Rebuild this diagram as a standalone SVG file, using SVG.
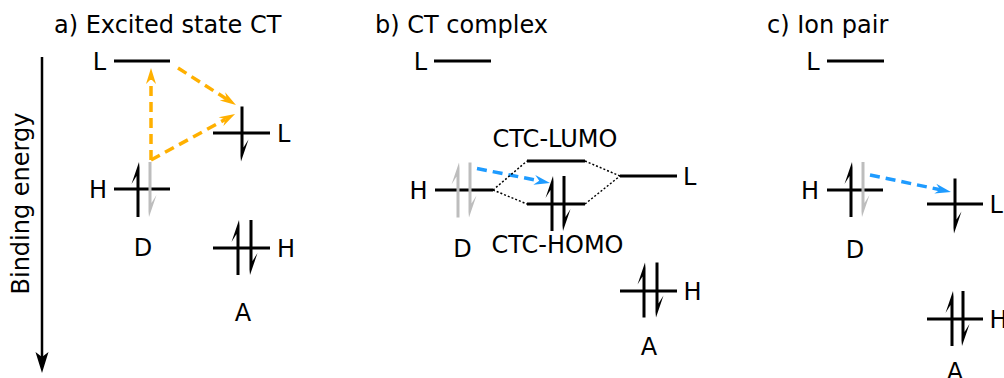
<svg xmlns="http://www.w3.org/2000/svg" xmlns:xlink="http://www.w3.org/1999/xlink" width="1004" height="378" viewBox="0 0 1004 378">
  <style>
    .lvl { stroke: #000; stroke-width: 3; fill: none; }
    .txt { font-family: "DejaVu Sans", Verdana, sans-serif; font-size: 24px; fill: #000; }
    .end { text-anchor: end; }
    .mid { text-anchor: middle; }
    .grey { fill: #bdbdbd; }
    .ct { fill: none; stroke: #ffb000; stroke-width: 3.5; stroke-dasharray: 10 6; marker-end: url(#headOrange); }
    .et { fill: none; stroke: #1e9bff; stroke-width: 3.5; stroke-dasharray: 10 6; marker-end: url(#headBlue); }
    .mix { fill: none; stroke: #000; stroke-width: 1.5; stroke-dasharray: 2 2; }
    .axis { stroke: #000; stroke-width: 2.5; fill: none; marker-end: url(#headAxis); }
  </style>
  <defs>
    <!-- spin-up / spin-down half arrows, centred on the level line -->
    <polygon id="up" points="1.5,27.5 -1.5,27.5 -1.5,-13.5 -6.5,-5.5 1,-27.5 1.5,-22"/>
    <polygon id="dn" points="-1.5,-27.5 1.5,-27.5 1.5,13.5 6.5,5.5 -1,27.5 -1.5,22"/>
    <marker id="headOrange" markerUnits="userSpaceOnUse" viewBox="-6 -6 18 12" markerWidth="18" markerHeight="12" refX="0" refY="0" orient="auto" overflow="visible">
      <path d="M11,0 L-5,-5 L0,0 L-5,5 Z" fill="#ffb000"/>
    </marker>
    <marker id="headBlue" markerUnits="userSpaceOnUse" viewBox="-6 -6 18 12" markerWidth="18" markerHeight="12" refX="0" refY="0" orient="auto" overflow="visible">
      <path d="M11,0 L-5,-5 L0,0 L-5,5 Z" fill="#1e9bff"/>
    </marker>
    <marker id="headAxis" markerUnits="userSpaceOnUse" viewBox="-6 -8 24 16" markerWidth="24" markerHeight="16" refX="0" refY="0" orient="auto" overflow="visible">
      <path d="M16,0 L-5,-6.5 L0,0 L-5,6.5 Z" fill="#000"/>
    </marker>
  </defs>

  <!-- energy axis -->
  <g id="axis">
    <line class="axis" x1="42" y1="57" x2="42" y2="357"/>
    <text class="txt mid" transform="translate(28.5,203.5) rotate(-90)">Binding energy</text>
  </g>

  <!-- panel titles -->
  <g id="titles">
    <text class="txt" x="54" y="33">a) Excited state CT</text>
    <text class="txt" x="375" y="33">b) CT complex</text>
    <text class="txt" x="767" y="33">c) Ion pair</text>
  </g>

  <!-- a) excited state CT -->
  <g id="a-donor-L">
    <line class="lvl" x1="114" y1="61" x2="170" y2="61"/>
    <text class="txt end" x="106" y="69.5">L</text>
  </g>
  <g id="a-donor-H">
    <line class="lvl" x1="114" y1="189" x2="170" y2="189"/>
    <text class="txt end" x="107" y="197.5">H</text>
    <use xlink:href="#up" transform="translate(138,189.5)"/>
    <use xlink:href="#dn" class="grey" transform="translate(150,189.5)"/>
    <text class="txt mid" x="143" y="255.5">D</text>
  </g>
  <g id="a-acceptor-L">
    <line class="lvl" x1="213" y1="133" x2="270" y2="133"/>
    <text class="txt" x="277" y="141.5">L</text>
    <use xlink:href="#dn" transform="translate(242,134)"/>
  </g>
  <g id="a-acceptor-H">
    <line class="lvl" x1="213" y1="248" x2="270" y2="248"/>
    <text class="txt" x="277" y="256.5">H</text>
    <use xlink:href="#up" transform="translate(238,247.5)"/>
    <use xlink:href="#dn" transform="translate(251,247.5)"/>
    <text class="txt mid" x="243" y="321">A</text>
  </g>

  <!-- b) CT complex -->
  <g id="b-donor-L">
    <line class="lvl" x1="434" y1="61" x2="491" y2="61"/>
    <text class="txt end" x="427" y="69.5">L</text>
  </g>
  <g id="b-donor-H">
    <line class="lvl" x1="435" y1="190" x2="493" y2="190"/>
    <text class="txt end" x="427.5" y="198.5">H</text>
    <use xlink:href="#up" class="grey" transform="translate(458,190)"/>
    <use xlink:href="#dn" class="grey" transform="translate(470,190)"/>
    <text class="txt mid" x="462.5" y="257">D</text>
  </g>
  <g id="b-ctc-lumo">
    <line class="lvl" x1="527" y1="161" x2="585" y2="161"/>
    <text class="txt mid" x="555" y="147">CTC-LUMO</text>
  </g>
  <g id="b-ctc-homo">
    <line class="lvl" x1="527" y1="204" x2="585" y2="204"/>
    <use xlink:href="#up" transform="translate(552,203.5)"/>
    <use xlink:href="#dn" transform="translate(564,203.5)"/>
    <text class="txt mid" x="557.5" y="253">CTC-HOMO</text>
  </g>
  <g id="b-acceptor-L">
    <line class="lvl" x1="620" y1="176" x2="677" y2="176"/>
    <text class="txt" x="683" y="184.5">L</text>
  </g>
  <g id="b-acceptor-H">
    <line class="lvl" x1="620" y1="291" x2="677" y2="291"/>
    <text class="txt" x="683.5" y="299.5">H</text>
    <use xlink:href="#up" transform="translate(644,290)"/>
    <use xlink:href="#dn" transform="translate(657,290)"/>
    <text class="txt mid" x="649" y="355">A</text>
  </g>

  <!-- c) ion pair -->
  <g id="c-donor-L">
    <line class="lvl" x1="827" y1="61" x2="884" y2="61"/>
    <text class="txt end" x="819.5" y="69.5">L</text>
  </g>
  <g id="c-donor-H">
    <line class="lvl" x1="827" y1="190" x2="883" y2="190"/>
    <text class="txt end" x="819" y="198.5">H</text>
    <use xlink:href="#up" transform="translate(851,189.5)"/>
    <use xlink:href="#dn" class="grey" transform="translate(863,189.5)"/>
    <text class="txt mid" x="855" y="257.5">D</text>
  </g>
  <g id="c-acceptor-L">
    <line class="lvl" x1="927" y1="204" x2="983" y2="204"/>
    <text class="txt" x="989.5" y="212.5">L</text>
    <use xlink:href="#dn" transform="translate(955,206)"/>
  </g>
  <g id="c-acceptor-H">
    <line class="lvl" x1="927" y1="319" x2="983" y2="319"/>
    <text class="txt" x="989.5" y="327.5">H</text>
    <use xlink:href="#up" transform="translate(952,318.5)"/>
    <use xlink:href="#dn" transform="translate(963,318.5)"/>
    <text class="txt mid" x="955" y="379.5">A</text>
  </g>

  <!-- transitions and orbital mixing -->
  <g id="connectors">
    <line class="ct" x1="151" y1="160" x2="151" y2="79"/>
    <line class="ct" x1="151" y1="160" x2="225.4" y2="119.3"/>
    <line class="ct" x1="178" y1="68" x2="226.7" y2="99.1"/>
    <line class="et" x1="477" y1="168.5" x2="539.2" y2="180.8"/>
    <line class="et" x1="870" y1="175" x2="940.2" y2="189.7"/>
    <line class="mix" x1="493" y1="190" x2="527" y2="161"/>
    <line class="mix" x1="493" y1="190" x2="527" y2="204"/>
    <line class="mix" x1="585" y1="161" x2="620" y2="176"/>
    <line class="mix" x1="585" y1="204" x2="620" y2="176"/>
  </g>
</svg>
